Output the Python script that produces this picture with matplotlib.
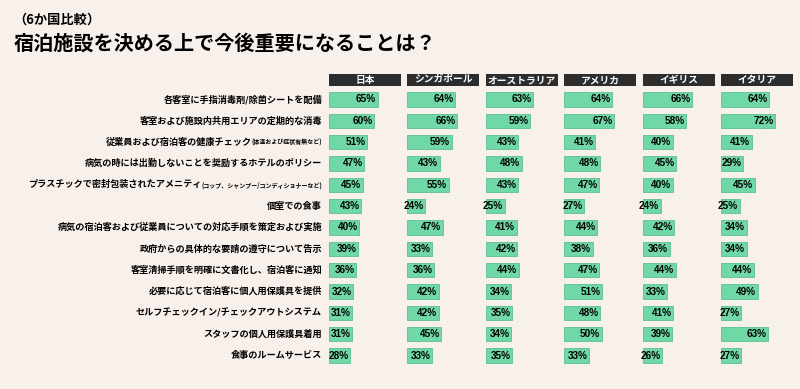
import matplotlib
matplotlib.use('Agg')
import matplotlib.pyplot as plt
from matplotlib.patches import Rectangle

plt.rcParams['font.family'] = ['Noto Sans CJK JP', 'DejaVu Sans']

countries = ['日本', 'シンガポール', 'オーストラリア', 'アメリカ', 'イギリス', 'イタリア']

# (main label, small note)
labels = [
    ('各客室に手指消毒剤/除菌シートを配備', ''),
    ('客室および施設内共用エリアの定期的な消毒', ''),
    ('従業員および宿泊客の健康チェック', '(体温および症状有無など)'),
    ('病気の時には出勤しないことを奨励するホテルのポリシー', ''),
    ('プラスチックで密封包装されたアメニティ', '(コップ、シャンプー/コンディショナーなど)'),
    ('個室での食事', ''),
    ('病気の宿泊客および従業員についての対応手順を策定および実施', ''),
    ('政府からの具体的な要請の遵守について告示', ''),
    ('客室清掃手順を明確に文書化し、宿泊客に通知', ''),
    ('必要に応じて宿泊客に個人用保護具を提供', ''),
    ('セルフチェックイン/チェックアウトシステム', ''),
    ('スタッフの個人用保護具着用', ''),
    ('食事のルームサービス', ''),
]

japan = [65, 60, 51, 47, 45, 43, 40, 39, 36, 32, 31, 31, 28]
singapore = [64, 66, 59, 43, 55, 24, 47, 33, 36, 42, 42, 45, 33]
australia = [63, 59, 43, 48, 43, 25, 41, 42, 44, 34, 35, 34, 35]
usa = [64, 67, 41, 48, 47, 27, 44, 38, 47, 51, 48, 50, 33]
uk = [66, 58, 40, 45, 40, 24, 42, 36, 44, 33, 41, 39, 26]
italy = [64, 72, 41, 29, 45, 25, 34, 34, 44, 49, 27, 63, 27]
series = [japan, singapore, australia, usa, uk, italy]

BG = '#f8f0eb'
GREEN = '#70d7a6'
EDGE = '#5cc08f'
HEAD = '#2d2d2d'

W, H = 800, 389
fig = plt.figure(figsize=(W / 100, H / 100), dpi=100, facecolor=BG)

fig.text(13 / W, 1 - 19.5 / H, '（6か国比較）', fontsize=9.5, fontweight='bold',
         va='center', ha='left')
fig.text(14 / W, 1 - 43 / H, '宿泊施設を決める上で今後重要になることは？', fontsize=14.5,
         fontweight='bold', va='center', ha='left')

top_px, bot_px = 88.8, 366.2
n = len(labels)
axes = []
for k, (name, vals) in enumerate(zip(countries, series)):
    x0 = 329 + k * 78.4
    ax = fig.add_axes([x0 / W, 1 - bot_px / H, 75 / W, (bot_px - top_px) / H])
    ax.set_facecolor('none')
    ax.barh(range(n), vals, height=0.66, color=GREEN, edgecolor=EDGE, linewidth=0.6)
    for i, v in enumerate(vals):
        ax.annotate(f'{v}%', xy=(v, i), xytext=(-1.5, 0), textcoords='offset pixels',
                    ha='right', va='center', fontsize=7.2, fontweight='bold',
                    family=['Liberation Sans', 'DejaVu Sans'])
    ax.set_xlim(0, 100)
    ax.set_ylim(n - 0.5, -0.5)
    ax.axis('off')
    axes.append(ax)

    fig.patches.append(Rectangle((x0 / W, 1 - 86 / H), 72 / W, 12 / H,
                                 transform=fig.transFigure, facecolor=HEAD,
                                 edgecolor='none'))
    fig.text((x0 + 36) / W, 1 - 80 / H, name, color='white', fontsize=7,
             fontweight='bold', ha='center', va='center')

# row labels, with the small note drawn in a smaller size
ax0 = axes[0]
renderer = fig.canvas.get_renderer()
for i, (main, note) in enumerate(labels):
    off = -7
    if note:
        t = ax0.annotate(note, xy=(0, i), xycoords=('axes fraction', 'data'),
                         xytext=(off, 0), textcoords='offset pixels',
                         ha='right', va='center', fontsize=4.3, fontweight='bold')
        off -= t.get_window_extent(renderer).width
    ax0.annotate(main, xy=(0, i), xycoords=('axes fraction', 'data'),
                 xytext=(off, 0), textcoords='offset pixels',
                 ha='right', va='center', fontsize=6.6, fontweight='bold')

fig.savefig('out.png', dpi=100, facecolor=BG)
